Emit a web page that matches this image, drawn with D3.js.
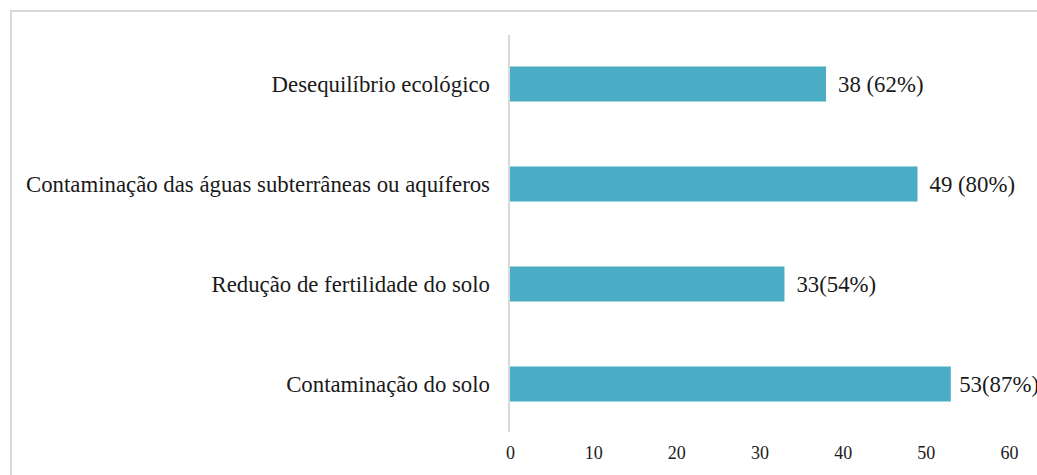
<!DOCTYPE html>
<html>
<head>
<meta charset="utf-8">
<script src="https://d3js.org/d3.v7.min.js"></script>
<style>
  body { margin: 0; background: #fff; }
</style>
</head>
<body>
<svg id="chart"></svg>
<script>
var categories = ["Desequilíbrio ecológico", "Contaminação das águas subterrâneas ou aquíferos", "Redução de fertilidade do solo", "Contaminação do solo"];
var values = [38, 49, 33, 53];
var valueLabels = ["38 (62%)", "49 (80%)", "33(54%)", "53(87%)"];
var ticks = [0, 10, 20, 30, 40, 50, 60];

var width = 1037,
    height = 475,
    font = "'Liberation Serif', 'Times New Roman', 'DejaVu Serif', serif";

var svg = d3.select("#chart")
    .attr("width", width)
    .attr("height", height);

// frame
svg.append("path")
    .attr("d", "M11," + height + "V11H" + width)
    .attr("fill", "none")
    .attr("stroke", "#d9d9d9")
    .attr("stroke-width", 2);

var x = d3.scaleLinear().domain([0, 60]).range([510, 1009]);
var y = d3.scaleBand()
    .domain(categories)
    .range([34, 434])
    .paddingInner(0.65)
    .paddingOuter(0.325);

// axis line
svg.append("line")
    .attr("x1", 509).attr("x2", 509)
    .attr("y1", 35).attr("y2", 432)
    .attr("stroke", "#d9d9d9")
    .attr("stroke-width", 2);

svg.selectAll("rect.bar")
    .data(values)
    .enter().append("rect")
    .attr("class", "bar")
    .attr("x", x(0))
    .attr("y", function(d, i) { return y(categories[i]); })
    .attr("width", function(d) { return x(d) - x(0); })
    .attr("height", y.bandwidth())
    .attr("fill", "#4BACC6");

svg.selectAll("text.cat")
    .data(categories)
    .enter().append("text")
    .attr("class", "cat")
    .attr("x", 490)
    .attr("y", function(d) { return y(d) + y.bandwidth() / 2; })
    .attr("dy", "0.33em")
    .attr("text-anchor", "end")
    .attr("font-family", font)
    .attr("font-size", "22.8px")
    .attr("fill", "#1a1a1a")
    .text(function(d) { return d; });

var val = svg.selectAll("text.val")
    .data(values)
    .enter().append("text")
    .attr("class", "val")
    .attr("y", function(d, i) { return y(categories[i]) + y.bandwidth() / 2; })
    .attr("dy", "0.33em")
    .attr("font-family", font)
    .attr("font-size", "22.8px")
    .attr("fill", "#1a1a1a")
    .text(function(d, i) { return valueLabels[i]; });

// labels pushed left when they would run off the edge (like Excel does)
val.attr("x", function(d) {
    var w = this.getComputedTextLength();
    return Math.min(x(d) + 12, width + 2 - w);
});

var xAxis = d3.axisBottom(x).tickValues(ticks).tickSize(0).tickPadding(0);
var gx = svg.append("g")
    .attr("transform", "translate(0,446)")
    .call(xAxis)
    .attr("font-family", font)
    .attr("font-size", 18);
gx.select(".domain").remove();
gx.selectAll("text")
    .attr("fill", "#1a1a1a")
    .attr("dy", "0.71em");
</script>
</body>
</html>
